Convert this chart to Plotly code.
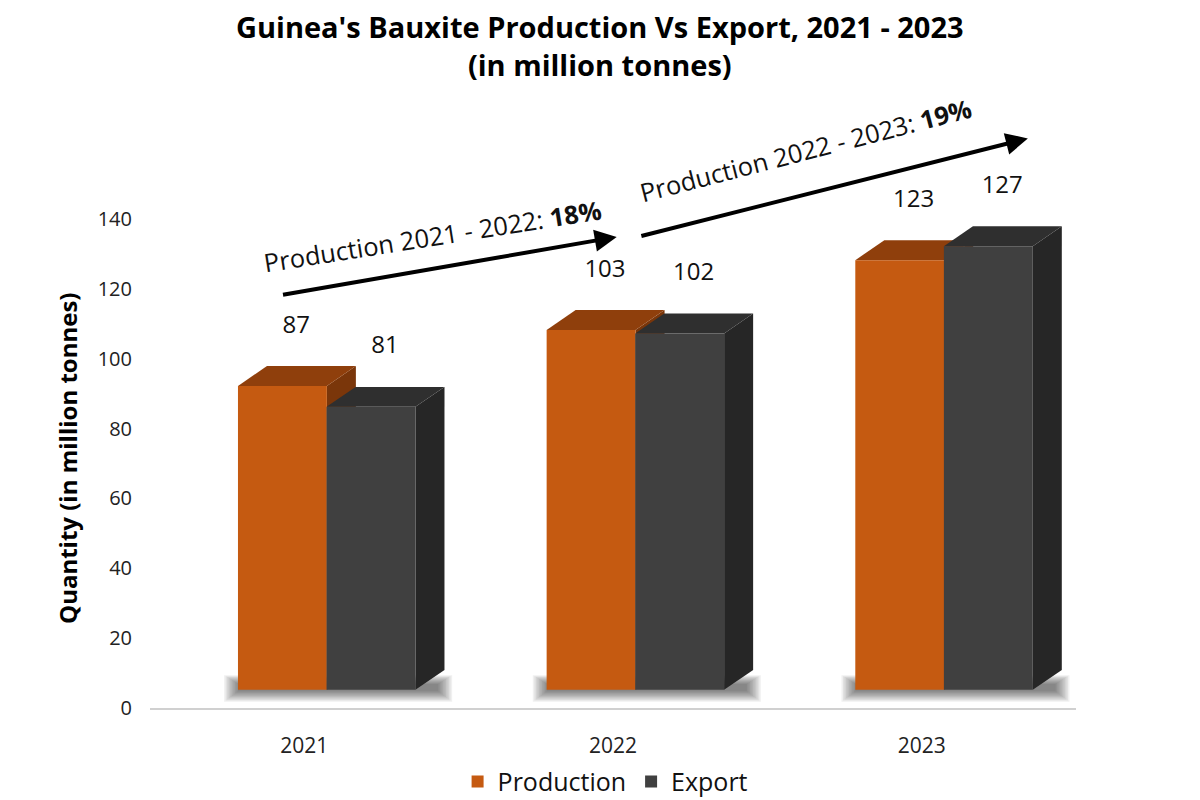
import plotly.graph_objects as go

# ---- data ----
years = ["2021", "2022", "2023"]
production = [87, 103, 123]
export = [81, 102, 127]
growth_labels = ["Production 2021 - 2022: <b>18%</b>", "Production 2022 - 2023: <b>19%</b>"]
y_ticks = [0, 20, 40, 60, 80, 100, 120, 140]
title_text = "<b>Guinea's Bauxite Production Vs Export, 2021 - 2023<br>(in million tonnes)</b>"
y_title = "<b>Quantity (in million tonnes)</b>"

# ---- style constants ----
BASE = 5.2           # raised floor of 3D bars
W = 0.288            # bar width (category units)
DX, DY = 0.094, 5.7  # depth offset
P_SHIFT, E_SHIFT = -0.071, 0.216
LBL_DX, LBL_DY = 0.045, 17

C_PROD, C_PROD_TOP, C_PROD_SIDE = "#C55A11", "#8F3F0C", "#7A360A"
C_EXP, C_EXP_TOP, C_EXP_SIDE = "#404040", "#2F2F2F", "#262626"

FONT = "Open Sans"

fig = go.Figure()

idx = list(range(len(years)))
xp = [i + P_SHIFT for i in idx]
xe = [i + E_SHIFT for i in idx]

fig.add_trace(go.Bar(x=xp, y=production, base=BASE, width=W, name="Production",
                     marker=dict(color=C_PROD, line=dict(width=0)), hoverinfo="skip"))
fig.add_trace(go.Bar(x=xe, y=export, base=BASE, width=W, name="Export",
                     marker=dict(color=C_EXP, line=dict(width=0)), hoverinfo="skip"))

shapes = []
def poly(pts, color, opacity=1.0):
    path = "M " + " L ".join(f"{x},{y}" for x, y in pts) + " Z"
    return dict(type="path", path=path, xref="x", yref="y", fillcolor=color,
                line=dict(width=0), layer="below", opacity=opacity)

# soft shadows under each bar pair (stacked translucent layers)
N_SH = 10
for i in idx:
    x0 = xp[i] - W / 2
    x1 = xe[i] + W / 2 + DX
    for k in range(N_SH):
        f = k / (N_SH - 1)
        pad = 0.045 * (1 - f)
        yb = BASE - 3.0 * (1 - f) - 0.4
        yt = BASE + DY - 1.5 - 2.5 * f
        shapes.append(poly([(x0 - pad, yb), (x1 - 0.02 + pad, yb),
                            (x1 - 0.02 + pad, yt), (x0 - pad, yt)], "#000000", 0.06))

for xs, vals, ctop, cside in [(xp, production, C_PROD_TOP, C_PROD_SIDE),
                              (xe, export, C_EXP_TOP, C_EXP_SIDE)]:
    for i in idx:
        x0 = xs[i] - W / 2
        x1 = xs[i] + W / 2
        top = BASE + vals[i]
        shapes.append(poly([(x1, BASE), (x1, top), (x1 + DX, top + DY), (x1 + DX, BASE + DY)], cside))
        shapes.append(poly([(x0, top), (x1, top), (x1 + DX, top + DY), (x0 + DX, top + DY)], ctop))

# data labels
lx, ly, lt = [], [], []
for xs, vals in [(xp, production), (xe, export)]:
    for i in idx:
        lx.append(xs[i] + LBL_DX)
        ly.append(BASE + vals[i] + LBL_DY)
        lt.append(str(vals[i]))
fig.add_trace(go.Scatter(x=lx, y=ly, text=lt, mode="text", showlegend=False,
                         textfont=dict(family=FONT, size=24, color="#111111"),
                         hoverinfo="skip", cliponaxis=False))

annotations = []
# growth arrows (domain coordinates of the plot area)
arrows = [((0.142, 0.788), (0.504, 0.899)), ((0.529, 0.900), (0.948, 1.087))]
for (ax_, ay_), (x_, y_) in arrows:
    annotations.append(dict(x=x_, y=y_, ax=ax_, ay=ay_, xref="x domain", yref="y domain",
                            axref="x domain", ayref="y domain",
                            showarrow=True, arrowhead=2, arrowsize=1.1, arrowwidth=4,
                            arrowcolor="#000000", text=""))
label_pos = [(0.305, 0.900, -9), (0.708, 1.065, -14.5)]
for (x_, y_, ang), txt in zip(label_pos, growth_labels):
    annotations.append(dict(x=x_, y=y_, xref="paper", yref="paper", text=txt, showarrow=False,
                            xanchor="center", yanchor="middle",
                            textangle=ang, font=dict(family=FONT, size=25.5, color="#111111")))

# title (two lines)
annotations.append(dict(x=0.486, y=(708 - 45) / 524, xref="paper", yref="paper", text=title_text,
                        showarrow=False, xanchor="center", yanchor="middle",
                        font=dict(family=FONT, size=29, color="#000000")))

# y-axis title
annotations.append(dict(x=-0.0886, y=(708 - 458) / 524, xref="paper", yref="paper",
                        text=y_title, textangle=-90, xanchor="center", yanchor="middle",
                        showarrow=False, font=dict(family=FONT, size=24, color="#000000")))

fig.update_layout(
    width=1200, height=800,
    margin=dict(l=142, r=132, t=176, b=100, autoexpand=False),
    paper_bgcolor="white", plot_bgcolor="white",
    barmode="overlay",
    xaxis=dict(range=[-0.5, 2.5], tickvals=idx, ticktext=years, showgrid=False, zeroline=False,
               showline=True, linecolor="#D0D0D0", linewidth=1.5, automargin=False,
               ticks="outside", ticklen=18, tickcolor="rgba(0,0,0,0)",
               tickfont=dict(family=FONT, size=21, color="#222222")),
    yaxis=dict(range=[0, 150], tickvals=y_ticks, showgrid=False, zeroline=False, showline=False,
               automargin=False,
               ticks="outside", ticklen=13, tickcolor="rgba(0,0,0,0)",
               tickfont=dict(family=FONT, size=20, color="#222222")),
    legend=dict(orientation="h", x=0.492, xanchor="center", y=-0.097, yanchor="top",
                font=dict(family=FONT, size=25, color="#111111")),
    shapes=shapes, annotations=annotations,
)

fig.write_html("out.html")
